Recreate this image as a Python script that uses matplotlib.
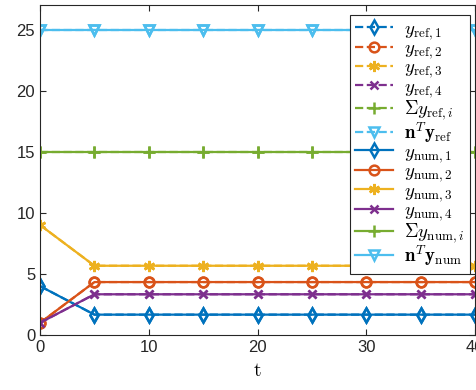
import matplotlib
matplotlib.use("Agg")
import matplotlib.pyplot as plt

# -- data ---------------------------------------------------------------------
t = [0, 5, 10, 15, 20, 25, 30, 35, 40]
y1 = [4, 1.667, 1.667, 1.667, 1.667, 1.667, 1.667, 1.667, 1.667]
y2 = [1, 4.333, 4.333, 4.333, 4.333, 4.333, 4.333, 4.333, 4.333]
y3 = [9, 5.667, 5.667, 5.667, 5.667, 5.667, 5.667, 5.667, 5.667]
y4 = [1, 3.333, 3.333, 3.333, 3.333, 3.333, 3.333, 3.333, 3.333]
y_sum = [15, 15, 15, 15, 15, 15, 15, 15, 15]
ny = [25, 25, 25, 25, 25, 25, 25, 25, 25]

series = [y1, y2, y3, y4, y_sum, ny]
ref_labels = [r"$y_{\mathrm{ref},1}$", r"$y_{\mathrm{ref},2}$", r"$y_{\mathrm{ref},3}$",
              r"$y_{\mathrm{ref},4}$", r"$\Sigma y_{\mathrm{ref},i}$",
              r"$\mathbf{n}^T\mathbf{y}_{\mathrm{ref}}$"]
num_labels = [r"$y_{\mathrm{num},1}$", r"$y_{\mathrm{num},2}$", r"$y_{\mathrm{num},3}$",
              r"$y_{\mathrm{num},4}$", r"$\Sigma y_{\mathrm{num},i}$",
              r"$\mathbf{n}^T\mathbf{y}_{\mathrm{num}}$"]

colors = ["#0072BD", "#D95319", "#EDB120", "#7E2F8E", "#77AC30", "#4DBEEE"]
markers = ["d", "o", (6, 2, 0), "x", "+", "v"]
msizes = [7, 7, 8, 6, 8, 7.5]

plt.rcParams["mathtext.fontset"] = "cm"
plt.rcParams["font.family"] = "Liberation Sans"

fig = plt.figure(figsize=(4.77, 3.9), dpi=100)
ax = fig.add_axes([0.084, 0.141, 0.912, 0.846])

for ys, c, m, s, lab in zip(series, colors, markers, msizes, ref_labels):
    ax.plot(t, ys, "--", color=c, marker=m, mfc="none", mec=c, mew=1.8,
            ms=s, lw=1.6, label=lab)
for ys, c, m, s, lab in zip(series, colors, markers, msizes, num_labels):
    ax.plot(t, ys, "-", color=c, marker=m, mfc="none", mec=c, mew=1.8,
            ms=s, lw=1.6, label=lab)

ax.set_xlim(0, 40)
ax.set_ylim(0, 27)
ax.set_xticks([0, 10, 20, 30, 40])
ax.set_yticks([0, 5, 10, 15, 20, 25])
ax.tick_params(direction="in", top=True, right=True, labelsize=12,
               colors="#262626", length=4)
for s in ax.spines.values():
    s.set_color("#262626")
    s.set_linewidth(0.8)
ax.set_xlabel(r"$\mathrm{t}$", fontsize=14, labelpad=6)

leg = ax.legend(loc="upper right", fontsize=13.5, handlelength=2.0,
                labelspacing=-0.08, borderpad=0.3, handletextpad=0.6,
                borderaxespad=0.0,
                fancybox=False, framealpha=1, edgecolor="#262626",
                bbox_to_anchor=(0.988, 0.97))
leg.get_frame().set_linewidth(0.8)

fig.savefig("out.png", dpi=100)
